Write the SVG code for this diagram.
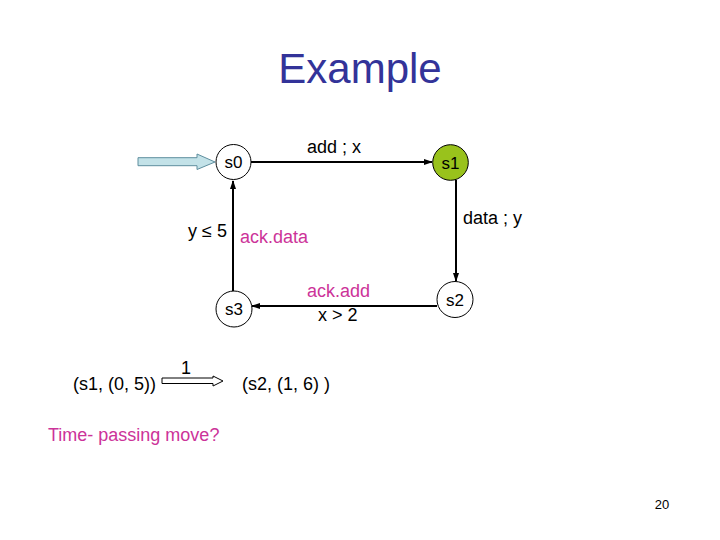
<svg xmlns="http://www.w3.org/2000/svg" width="720" height="540" viewBox="0 0 720 540">
<defs>
<style>
text{font-family:"Liberation Sans",Arial,sans-serif;fill:#000}
.lbl{font-size:18px}
.pink{fill:#CC3399}
.st{fill:none;stroke:#000;stroke-width:1}
.edge{stroke:#000;stroke-width:2;fill:none;marker-end:url(#ah)}
.sl{font-size:17px;text-anchor:middle}
</style>
<marker id="ah" markerWidth="9" markerHeight="8" refX="8" refY="4" orient="auto" markerUnits="userSpaceOnUse">
<path d="M0,1 L9,4 L0,7 Z" fill="#000"/>
</marker>
</defs>
<rect width="720" height="540" fill="#fff"/>
<text x="360" y="83" font-size="42" text-anchor="middle" style="fill:#333399">Example</text>

<g id="start">
<polygon points="138,157.7 197,157.7 197,154 215,162 197,169.5 197,165.7 138,165.7" fill="#C3E2E8" stroke="#5E8E9E" stroke-width="1"/>
</g>

<g id="connectors">
<line class="edge" x1="251" y1="162" x2="432" y2="162"/>
<line class="edge" x1="456" y1="180" x2="456" y2="281"/>
<line class="edge" x1="437" y1="306" x2="252" y2="306"/>
<line class="edge" x1="233" y1="291" x2="233" y2="181"/>
</g>

<g id="s0">
<circle class="st" cx="233.5" cy="162" r="17.5" fill="#fff"/>
<text class="sl" x="233.5" y="168">s0</text>
</g>
<g id="s1">
<circle cx="450.5" cy="162.5" r="17.8" fill="#99C21C" stroke="#000" stroke-width="1"/>
<text class="sl" x="450.5" y="168.5">s1</text>
</g>
<g id="s2">
<circle class="st" cx="455" cy="299.5" r="18" fill="#fff"/>
<text class="sl" x="455" y="305.5">s2</text>
</g>
<g id="s3">
<circle class="st" cx="234" cy="309" r="18" fill="#fff"/>
<text class="sl" x="234" y="315">s3</text>
</g>

<g id="labels">
<text class="lbl" x="307" y="153">add ; x</text>
<text class="lbl" x="463" y="224">data ; y</text>
<text class="lbl" x="188" y="237">y ≤ 5</text>
<text class="lbl pink" x="240" y="243">ack.data</text>
<text class="lbl pink" x="307" y="297">ack.add</text>
<text class="lbl" x="318" y="321">x &gt; 2</text>
</g>

<g id="move">
<text class="lbl" x="73" y="390">(s1, (0, 5))</text>
<text class="lbl" x="181" y="374">1</text>
<polygon points="162,378 213,378 213,376 223,381 213,386 213,383.5 162,383.5" fill="#fff" stroke="#000" stroke-width="1"/>
<text class="lbl" x="242" y="390">(s2, (1, 6) )</text>
<text class="lbl pink" x="48" y="441">Time- passing move?</text>
</g>
<text x="662" y="509" font-size="13" text-anchor="middle">20</text>
</svg>
